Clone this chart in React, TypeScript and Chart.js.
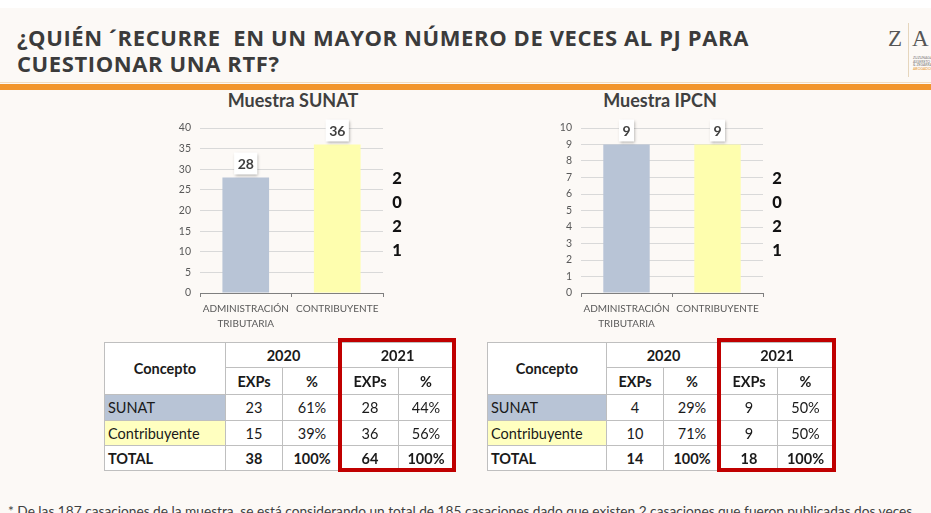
import React, { useEffect, useRef } from "react";
import { Chart, registerables } from "chart.js";

Chart.register(...registerables);

const categories: string[][] = [["ADMINISTRACIÓN", "TRIBUTARIA"], ["CONTRIBUYENTE"]];
const sunatValues: number[] = [28, 36];
const ipcnValues: number[] = [9, 9];
const sunatTicks = { max: 40, step: 5 };
const ipcnTicks = { max: 10, step: 1 };
const barColors: string[] = ["#b8c4d6", "#fefeae"];
const yearDigits: string[] = ["2", "0", "2", "1"];

const tableHeadYears: string[] = ["2020", "2021"];
const rowNames: string[] = ["SUNAT", "Contribuyente", "TOTAL"];
const sunatTable: string[][] = [
  ["23", "61%", "28", "44%"],
  ["15", "39%", "36", "56%"],
  ["38", "100%", "64", "100%"],
];
const ipcnTable: string[][] = [
  ["4", "29%", "9", "50%"],
  ["10", "71%", "9", "50%"],
  ["14", "100%", "18", "100%"],
];

const FONT = "Lato, 'Open Sans', sans-serif";

const labelPlugin = {
  id: "boxLabels",
  afterDatasetsDraw(chart: any) {
    const ctx = chart.ctx;
    chart.data.datasets.forEach((ds: any, di: number) => {
      const meta = chart.getDatasetMeta(di);
      meta.data.forEach((el: any, i: number) => {
        const txt = String(ds.data[i]);
        ctx.save();
        ctx.font = `bold 14px ${FONT}`;
        const w = ctx.measureText(txt).width + 7;
        const h = 22;
        const x = el.x - w / 2;
        const y = el.y - 3 - h;
        ctx.shadowColor = "rgba(0,0,0,0.35)";
        ctx.shadowBlur = 3;
        ctx.shadowOffsetX = 1;
        ctx.shadowOffsetY = 1;
        ctx.fillStyle = "#ffffff";
        ctx.fillRect(x, y, w, h);
        ctx.shadowColor = "transparent";
        ctx.fillStyle = "#404040";
        ctx.textAlign = "center";
        ctx.textBaseline = "middle";
        ctx.fillText(txt, el.x, y + h / 2 + 1);
        ctx.restore();
      });
    });
  },
};

function BarChart({ values, max, step, yWidth }: { values: number[]; max: number; step: number; yWidth: number }) {
  const ref = useRef<HTMLCanvasElement>(null);
  useEffect(() => {
    if (!ref.current) return;
    const chart = new Chart(ref.current, {
      type: "bar",
      data: {
        labels: categories,
        datasets: [
          {
            data: values,
            backgroundColor: barColors,
            borderWidth: 0,
            categoryPercentage: 1,
            barPercentage: 0.51,
          },
        ],
      },
      options: {
        animation: false,
        responsive: false,
        maintainAspectRatio: false,
        layout: { padding: { top: 18, right: 17, left: 0, bottom: 0 } },
        plugins: { legend: { display: false }, tooltip: { enabled: false } },
        scales: {
          y: {
            min: 0,
            max,
            ticks: { stepSize: step, color: "#595959", font: { size: 10.5, family: FONT }, padding: 9 },
            grid: { color: "#d9d9d9", drawTicks: false },
            border: { display: false },
            afterFit: (s: any) => {
              s.width = yWidth;
            },
          },
          x: {
            ticks: { color: "#595959", font: { size: 10, family: FONT, lineHeight: 1.5 }, padding: 4, maxRotation: 0 },
            grid: { display: true, drawOnChartArea: false, tickLength: 4, color: "#7f7f7f" },
            border: { display: true, color: "#7f7f7f", width: 1 },
            afterFit: (s: any) => {
              s.height = 47;
            },
          },
        },
      },
      plugins: [labelPlugin],
    });
    return () => chart.destroy();
  }, []);
  return <canvas ref={ref} width={250} height={230} style={{ width: 250, height: 230, display: "block" }} />;
}

function DataTable({ rows, left, widths }: { rows: string[][]; left: number; widths: number[] }) {
  const heights = [25, 27, 26, 25, 25];
  const bd = "1px solid #bfbfbf";
  const cell: React.CSSProperties = {
    border: bd,
    padding: 0,
    fontFamily: FONT,
    fontSize: 14.5,
    color: "#1a1a1a",
    textAlign: "center",
    verticalAlign: "middle",
    whiteSpace: "nowrap",
    overflow: "hidden",
  };
  const rowBg = ["#b8c4d6", "#ffffc0", "#ffffff"];
  const redLeft = left + widths[0] + widths[1] + widths[2] - 3;
  const redWidth = widths[3] + widths[4] + 6;
  return (
    <>
      <table
        style={{
          position: "absolute",
          left,
          top: 342,
          borderCollapse: "collapse",
          background: "#ffffff",
          tableLayout: "fixed",
        }}
      >
        <colgroup>
          {widths.map((w, i) => (
            <col key={i} style={{ width: w }} />
          ))}
        </colgroup>
        <tbody>
          <tr style={{ height: heights[0] }}>
            <td rowSpan={2} style={{ ...cell, fontWeight: 700 }}>Concepto</td>
            {tableHeadYears.map((y) => (
              <td key={y} colSpan={2} style={{ ...cell, fontWeight: 700 }}>{y}</td>
            ))}
          </tr>
          <tr style={{ height: heights[1] }}>
            {["EXPs", "%", "EXPs", "%"].map((t, i) => (
              <td key={i} style={{ ...cell, fontWeight: 700 }}>{t}</td>
            ))}
          </tr>
          {rows.map((r, ri) => (
            <tr key={ri} style={{ height: heights[ri + 2] }}>
              <td
                style={{
                  ...cell,
                  textAlign: "left",
                  paddingLeft: 3,
                  background: rowBg[ri],
                  fontWeight: ri === 2 ? 700 : 400,
                }}
              >
                {rowNames[ri]}
              </td>
              {r.map((v, vi) => (
                <td key={vi} style={{ ...cell, fontWeight: ri === 2 ? 700 : 400 }}>
                  {v}
                </td>
              ))}
            </tr>
          ))}
        </tbody>
      </table>
      <div
        style={{
          position: "absolute",
          left: redLeft,
          top: 338,
          width: redWidth,
          height: 134,
          border: "4px solid #c00000",
          boxSizing: "border-box",
        }}
      />
    </>
  );
}

export default function App() {
  useEffect(() => {
    document.body.style.margin = "0";
  }, []);
  const digitStyle = (x: number, i: number): React.CSSProperties => ({
    position: "absolute",
    left: x - 6,
    top: 168 + i * 24,
    width: 12,
    textAlign: "center",
    fontFamily: FONT,
    fontWeight: 900,
    fontSize: 16.5,
    color: "#111",
    lineHeight: "20px",
  });
  const chartTitle = (cx: number): React.CSSProperties => ({
    position: "absolute",
    left: cx - 100,
    top: 89,
    width: 200,
    textAlign: "center",
    fontFamily: FONT,
    fontWeight: 700,
    fontSize: 18,
    color: "#404040",
  });
  return (
    <div style={{ position: "relative", width: 931, height: 513, background: "#fcf9f6", overflow: "hidden" }}>
      <div style={{ position: "absolute", left: 0, top: 0, width: 931, height: 8, background: "#ffffff" }} />
      <div
        style={{
          position: "absolute",
          left: 17,
          top: 24,
          fontFamily: "'Open Sans', sans-serif",
          fontWeight: 700,
          fontSize: 22,
          lineHeight: "26px",
          color: "#3b3b3b",
          whiteSpace: "pre",
          letterSpacing: 0.6,
        }}
      >
        {"¿QUIÉN ´RECURRE  EN UN MAYOR NÚMERO DE VECES AL PJ PARA\nCUESTIONAR UNA RTF?"}
      </div>
      {/* logo */}
      <div style={{ position: "absolute", left: 888, top: 26, fontFamily: "'Liberation Serif', serif", fontSize: 23, color: "#555", lineHeight: "26px" }}>Z</div>
      <div style={{ position: "absolute", left: 908, top: 23, width: 1, height: 54, background: "#e6d6bd" }} />
      <div style={{ position: "absolute", left: 912, top: 26, fontFamily: "'Liberation Serif', serif", fontSize: 23, color: "#555", lineHeight: "26px" }}>A</div>
      <div style={{ position: "absolute", left: 913, top: 57, fontFamily: FONT, fontSize: 3.5, lineHeight: "3.5px", color: "#777", whiteSpace: "pre" }}>
        {"ZUZUNAGA\nASSERETO\n& ZEGARRA"}
      </div>
      <div style={{ position: "absolute", left: 913, top: 67.5, fontFamily: FONT, fontSize: 3.5, lineHeight: "3.5px", color: "#e8962e" }}>ABOGADOS</div>
      {/* orange bar */}
      <div style={{ position: "absolute", left: 0, top: 82, width: 931, height: 1, background: "#f3dcc0" }} />
      <div style={{ position: "absolute", left: 0, top: 84, width: 931, height: 6, background: "#f2952c" }} />

      <div style={chartTitle(293)}>Muestra SUNAT</div>
      <div style={chartTitle(660)}>Muestra IPCN</div>

      <div style={{ position: "absolute", left: 150, top: 110 }}>
        <BarChart values={sunatValues} max={sunatTicks.max} step={sunatTicks.step} yWidth={50} />
      </div>
      <div style={{ position: "absolute", left: 530, top: 110 }}>
        <BarChart values={ipcnValues} max={ipcnTicks.max} step={ipcnTicks.step} yWidth={51} />
      </div>

      {yearDigits.map((d, i) => (
        <div key={"l" + i} style={digitStyle(397, i)}>{d}</div>
      ))}
      {yearDigits.map((d, i) => (
        <div key={"r" + i} style={digitStyle(777, i)}>{d}</div>
      ))}

      <DataTable rows={sunatTable} left={104} widths={[121, 57, 59, 57, 55]} />
      <DataTable rows={ipcnTable} left={487} widths={[119, 57, 57, 57, 56]} />

      <div
        style={{
          position: "absolute",
          left: 8,
          top: 502,
          fontFamily: FONT,
          fontSize: 13.7,
          color: "#404040",
          whiteSpace: "nowrap",
        }}
      >
        * De las 187 casaciones de la muestra, se está considerando un total de 185 casaciones dado que existen 2 casaciones que fueron publicadas dos veces
      </div>
    </div>
  );
}
